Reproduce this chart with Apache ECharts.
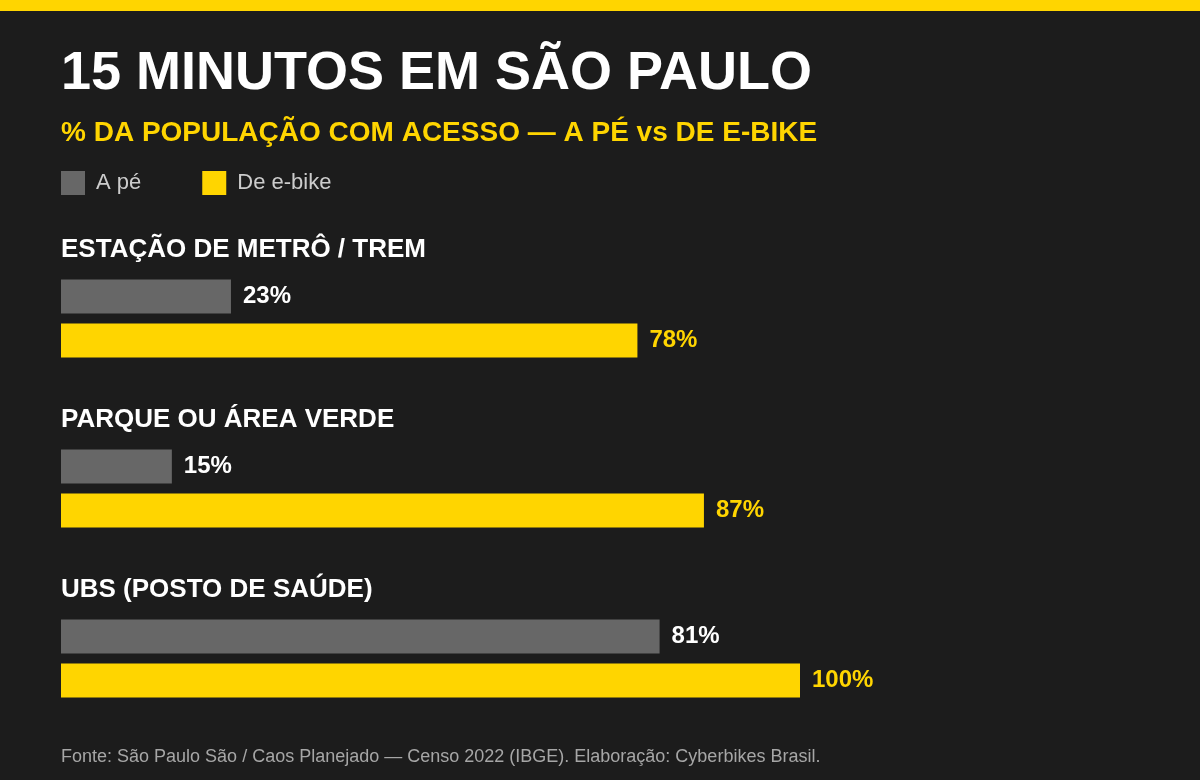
<!DOCTYPE html>
<html>
<head>
<meta charset="utf-8">
<title>15 minutos em São Paulo</title>
<script src="https://cdn.jsdelivr.net/npm/echarts@6/dist/echarts.min.js"></script>
<style>
  html, body { margin: 0; padding: 0; background: #1c1c1c; }
  #chart { width: 1200px; height: 780px; }
</style>
</head>
<body>
<div id="chart"></div>
<script>
// dados
const categories = ['ESTAÇÃO DE METRÔ / TREM', 'PARQUE OU ÁREA VERDE', 'UBS (POSTO DE SAÚDE)'];
const seriesNames = ['A pé', 'De e-bike'];
const walkValues = [23, 15, 81];
const ebikeValues = [78, 87, 100];

const FONT = '"Liberation Sans", Arial, sans-serif';
const YELLOW = '#ffd500';
const GRAY = '#676767';

const chart = echarts.init(document.getElementById('chart'));

// um grid por categoria
const groupTop = [274.5, 444.5, 614.5];
const grids = [], xAxes = [], yAxes = [], series = [], labels = [];

categories.forEach((cat, i) => {
    grids.push({ left: 61, width: 739, top: groupTop[i], height: 88 });
    xAxes.push({ type: 'value', gridIndex: i, min: 0, max: 100, show: false });
    yAxes.push({ type: 'category', gridIndex: i, data: seriesNames, inverse: true, show: false });

    [walkValues, ebikeValues].forEach((vals, k) => {
        const color = k === 0 ? GRAY : YELLOW;
        // cada barra na sua linha, a outra fica vazia
        const data = k === 0 ? [vals[i], '-'] : ['-', vals[i]];
        series.push({
            name: seriesNames[k],
            type: 'bar',
            xAxisIndex: i,
            yAxisIndex: i,
            data: data,
            barWidth: 34,
            barGap: '-100%',
            itemStyle: { color: color },
            label: {
                show: true,
                position: 'right',
                distance: 12,
                formatter: '{c}%',
                color: k === 0 ? '#ffffff' : YELLOW,
                fontFamily: FONT,
                fontWeight: 'bold',
                fontSize: 24
            },
            silent: true,
            animation: false
        });
    });

    labels.push({
        type: 'text',
        left: 61,
        top: groupTop[i] - 37.5,
        style: {
            text: cat,
            fill: '#ffffff',
            font: 'bold 26px ' + FONT
        }
    });
});

chart.setOption({
    backgroundColor: '#1c1c1c',
    animation: false,
    grid: grids,
    xAxis: xAxes,
    yAxis: yAxes,
    legend: {
        data: seriesNames,
        left: 61,
        top: 171,
        padding: 0,
        icon: 'rect',
        itemWidth: 24,
        itemHeight: 24,
        itemGap: 61,
        textStyle: { color: '#cccccc', fontSize: 22, fontFamily: FONT, padding: [0, 0, 0, 6] },
        selectedMode: false
    },
    graphic: [
        { type: 'rect', left: 0, top: 0, shape: { width: 1200, height: 11 }, style: { fill: YELLOW } },
        {
            type: 'text', left: 61, top: 47,
            style: { text: '15 MINUTOS EM SÃO PAULO', fill: '#ffffff', font: 'bold 54px ' + FONT }
        },
        {
            type: 'text', left: 61, top: 119,
            style: { text: '% DA POPULAÇÃO COM ACESSO — A PÉ vs DE E-BIKE', fill: YELLOW, font: 'bold 28px ' + FONT }
        },
        {
            type: 'text', left: 61, top: 748,
            style: {
                text: 'Fonte: São Paulo São / Caos Planejado — Censo 2022 (IBGE). Elaboração: Cyberbikes Brasil.',
                fill: '#a6a6a6',
                font: '18px ' + FONT
            }
        }
    ].concat(labels),
    series: series
});
</script>
</body>
</html>
